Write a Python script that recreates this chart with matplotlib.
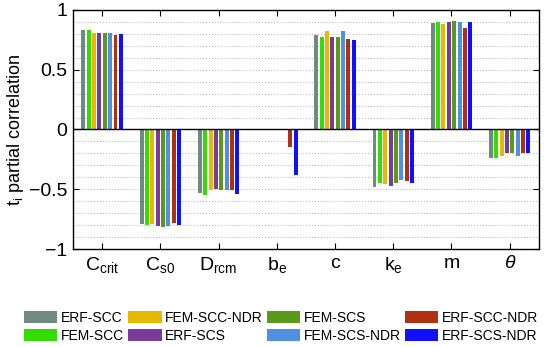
import numpy as np
import matplotlib
matplotlib.use('Agg')
import matplotlib.pyplot as plt

plt.rcParams['font.family'] = ['Liberation Sans', 'DejaVu Sans']
plt.rcParams['mathtext.fontset'] = 'custom'
plt.rcParams['mathtext.rm'] = 'Liberation Sans'
plt.rcParams['mathtext.it'] = 'Liberation Sans:italic'

categories = [r'C$_{\mathregular{crit}}$', r'C$_{\mathregular{s0}}$', r'D$_{\mathregular{rcm}}$',
              r'b$_{\mathregular{e}}$', 'c', r'k$_{\mathregular{e}}$', 'm', r'$\theta$']
series = ['ERF-SCC', 'FEM-SCC', 'FEM-SCC-NDR', 'ERF-SCS',
          'FEM-SCS', 'FEM-SCS-NDR', 'ERF-SCC-NDR', 'ERF-SCS-NDR']
colors = ['#6f8a80', '#33dd00', '#e6b800', '#7a3a9a',
          '#5a9a1a', '#5090e0', '#b03010', '#1010ff']

# rows = series, columns = categories
erf_scc     = [0.83, -0.79, -0.53, 0.00, 0.79, -0.48, 0.89, -0.24]
fem_scc     = [0.83, -0.80, -0.55, 0.00, 0.77, -0.45, 0.90, -0.24]
fem_scc_ndr = [0.81, -0.79, -0.51, 0.00, 0.82, -0.46, 0.88, -0.22]
erf_scs     = [0.81, -0.81, -0.50, 0.00, 0.77, -0.47, 0.90, -0.20]
fem_scs     = [0.81, -0.82, -0.51, 0.00, 0.77, -0.45, 0.91, -0.20]
fem_scs_ndr = [0.81, -0.81, -0.51, 0.00, 0.82, -0.42, 0.90, -0.22]
erf_scc_ndr = [0.79, -0.78, -0.51, -0.15, 0.76, -0.43, 0.85, -0.20]
erf_scs_ndr = [0.80, -0.80, -0.54, -0.38, 0.75, -0.45, 0.90, -0.20]
values = [erf_scc, fem_scc, fem_scc_ndr, erf_scs,
          fem_scs, fem_scs_ndr, erf_scc_ndr, erf_scs_ndr]

fig = plt.figure(figsize=(5.5, 3.47), dpi=100)
ax = fig.add_axes([0.1327, 0.2824, 0.847, 0.689])

x = np.arange(1, len(categories) + 1)
slot = 0.092
handles = []
for i, (name, vals, col) in enumerate(zip(series, values, colors)):
    off = (i - 3.5) * slot
    h = ax.bar(x + off, vals, width=0.068, color=col, label=name, zorder=3)
    handles.append(h)

ax.axhline(0, color='black', lw=1.0, zorder=4)
ax.set_xlim(0.5, 8.5)
ax.set_ylim(-1, 1)
ax.set_xticks(x)
ax.set_xticklabels(categories, fontsize=14)
ax.set_yticks([-1, -0.5, 0, 0.5, 1])
ax.set_yticklabels(['\u22121', '\u22120.5', '0', '0.5', '1'], fontsize=14)
ax.set_yticks(np.arange(-0.9, 1.0, 0.1), minor=True)
ax.grid(True, axis='y', which='both', linestyle=':', color='#bbbbbb', lw=0.8, zorder=0)
ax.tick_params(axis='both', which='major', direction='in', top=True, right=True, length=4, pad=4)
ax.tick_params(axis='y', which='minor', length=0)
for s in ax.spines.values():
    s.set_linewidth(1.0)
ax.set_ylabel(r'$\mathregular{t_i}$ partial correlation', fontsize=13, labelpad=2)

fig.legend(handles=handles, loc='center', bbox_to_anchor=(0.511, 0.058), ncol=4,
           frameon=False, fontsize=10, handlelength=2.4, handleheight=0.95,
           handletextpad=0.25, columnspacing=0.3, labelspacing=0.25)

fig.savefig('out.png', dpi=100)
